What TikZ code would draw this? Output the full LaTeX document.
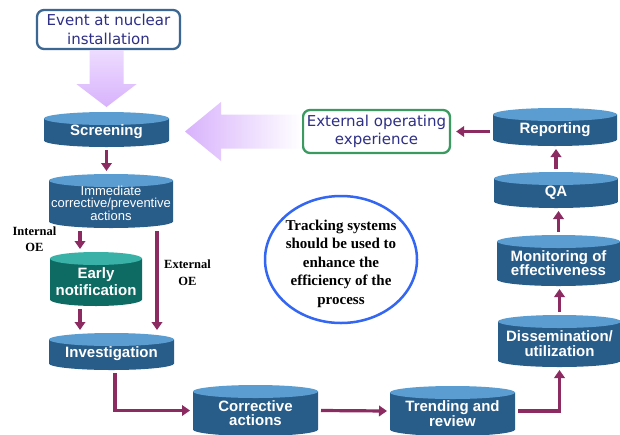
\documentclass[tikz,border=0pt]{standalone}
\usepackage{fontspec}
\usetikzlibrary{arrows.meta,calc,shapes.geometric}
\newfontfamily\arialf{Liberation Sans}
\newfontfamily\verdf{DejaVu Sans}
\newfontfamily\timesf{Liberation Serif}

\definecolor{bdark}{HTML}{285C89}
\definecolor{bmid}{HTML}{3D8DCB}
\definecolor{btop}{HTML}{5B9DD1}
\definecolor{tdark}{HTML}{0D6B63}
\definecolor{tmid}{HTML}{1FA096}
\definecolor{ttop}{HTML}{3AB1A6}
\definecolor{plum}{HTML}{8C2A62}
\definecolor{lav}{HTML}{D8B2FC}
\definecolor{lavpale}{HTML}{EDDCFF}
\definecolor{navytext}{HTML}{2E2F86}
\definecolor{eventedge}{HTML}{3B6792}
\definecolor{extedge}{HTML}{3A9A60}
\definecolor{trackedge}{HTML}{3366F2}

% drum-shaped process step: name, left, right, top, bottom, palette, extra text options, label
\newcommand\drum[8]{%
  \pgfmathsetmacro\dcx{(#2+#3)/2}%
  \pgfmathsetmacro\dcy{(#4+#5)/2}%
  \pgfmathsetmacro\drx{(#3-#2)/2}%
  \pgfmathsetmacro\dw{#3-#2}%
  \pgfmathsetmacro\dh{#5-#4}%
  \pgfmathsetmacro\dtop{#4+6.5}%
  \pgfmathsetmacro\dbot{#5-6.5}%
  \shade[left color=#6dark, middle color=#6mid, right color=#6dark]
    (#2,\dtop) -- (#2,\dbot)
    arc[start angle=180, end angle=360, x radius=\drx pt, y radius=6.5pt]
    -- (#3,\dtop) -- cycle;
  \fill[#6top] (\dcx,\dtop) ellipse[x radius=\drx pt, y radius=6.5pt];
  \node[drumbox, minimum width=\dw, minimum height=\dh] (#1) at (\dcx,\dcy) {};
  \node[drumtext, #7] (#1-text) at (\dcx,\dcy+2.5) {#8};
}

\tikzset{
  drumbox/.style={inner sep=0, outer sep=3pt},
  drumtext/.style={text=white, align=center, inner sep=0,
    font=\arialf\bfseries\fontsize{15}{14.5}\selectfont},
  flow/.style={draw=plum, line width=3.2pt,
    -{Triangle[width=10.5pt,length=8pt]}},
  roundbox/.style={fill=white, line width=2.3pt, rounded corners=7pt,
    text=navytext, align=center, inner sep=0,
    font=\verdf\fontsize{15}{18.5}\selectfont},
  oelabel/.style={align=center, inner sep=0,
    font=\timesf\bfseries\fontsize{12.5}{16.5}\selectfont},
}

\begin{document}
\begin{tikzpicture}[x=1pt, y=-1pt]
  \fill[white] (0,0) rectangle (620,434);
  \useasboundingbox (0,0) rectangle (620,434);

  % process steps
  \drum{scr}{44}{169}{112}{147}{b}{}{Screening}
  \drum{imm}{49}{173}{174}{228}{b}{font=\arialf\fontsize{13}{11.5}\selectfont}{Immediate\\corrective/preventive\\actions}
  \drum{early}{50}{142}{252}{306}{t}{font=\arialf\bfseries\fontsize{15}{17.5}\selectfont}{Early\\notification}
  \drum{inv}{49}{174}{333}{370}{b}{}{Investigation}
  \drum{corr}{193}{318}{385}{436}{b}{}{Corrective\\actions}
  \drum{trend}{390}{515}{386}{436}{b}{}{Trending and\\review}
  \drum{diss}{498}{621}{315}{367}{b}{}{Dissemination/\\utilization}
  \drum{mon}{497}{620}{235}{286}{b}{}{Monitoring of\\effectiveness}
  \drum{qa}{494}{618}{172}{208}{b}{}{QA}
  \drum{rep}{493}{617}{108}{146}{b}{}{Reporting}

  % inputs
  \node[roundbox, draw=eventedge, minimum width=143, minimum height=39]
    (ev) at (108.5,29.5) {Event at nuclear\\installation};
  \node[roundbox, draw=extedge, minimum width=147, minimum height=43]
    (ext) at (376.5,131.5) {External operating\\experience};

  % note
  \node[draw=trackedge, line width=2.5pt, ellipse, minimum width=152,
    minimum height=127, inner sep=0] (track) at (341,259.5) {};
  \node[align=center, inner sep=0, font=\timesf\bfseries\fontsize{15}{18.5}\selectfont]
    (track-text) at ([yshift=-4]track.center)
    {Tracking systems\\should be used to\\enhance the\\efficiency of the\\process};

  % branch labels
  \node[oelabel] (intoe) at (34.5,239) {Internal\\OE};
  \node[oelabel] (extoe) at (187.5,272.5) {External\\OE};

  % wide input arrows
  \shade[top color=lavpale, bottom color=lav]
    let \p1=(ev.south), \p2=(scr.north) in
    (\x1-19pt,\y1) -- (\x1+15pt,\y1) -- (\x1+15pt,\y1-34pt)
    -- (\x1+28pt,\y1-34pt) -- (\x1-2pt,\y2+2pt) -- (\x1-32pt,\y1-34pt)
    -- (\x1-19pt,\y1-34pt) -- cycle;
  \shade[left color=lav, right color=white]
    let \p1=(ext.west), \p2=(scr.east) in
    (\x1,\y1+17pt) -- (\x2+49pt,\y1+17pt) -- (\x2+49pt,\y1+29.5pt)
    -- (\x2+13pt,\y1) -- (\x2+49pt,\y1-29.5pt) -- (\x2+49pt,\y1-17pt)
    -- (\x1,\y1-17pt) -- cycle;

  % process flow
  \draw[flow] (scr.south) -- (scr.south |- imm.north);
  \draw[flow] ([xshift=-31]imm.south) coordinate (i1) -- (i1 |- early.north);
  \draw[flow] ([xshift=46]imm.south) coordinate (i2) -- (i2 |- inv.north);
  \draw[flow] ([xshift=-16]early.south) coordinate (e2) -- (e2 |- inv.north);
  \draw[flow] ([xshift=3.5]inv.south) |- (corr.west);
  \draw[flow] (corr.east) -- (trend.west);
  \draw[flow] (trend.east) -| (diss.south);
  \draw[flow] (diss.north) -- (diss.north |- mon.south);
  \draw[flow] (mon.north) -- (mon.north |- qa.south);
  \draw[flow] (qa.north) -- (qa.north |- rep.south);
  \draw[flow] (rep.west |- ext.east) -- ([xshift=5]ext.east);
\end{tikzpicture}
\end{document}
